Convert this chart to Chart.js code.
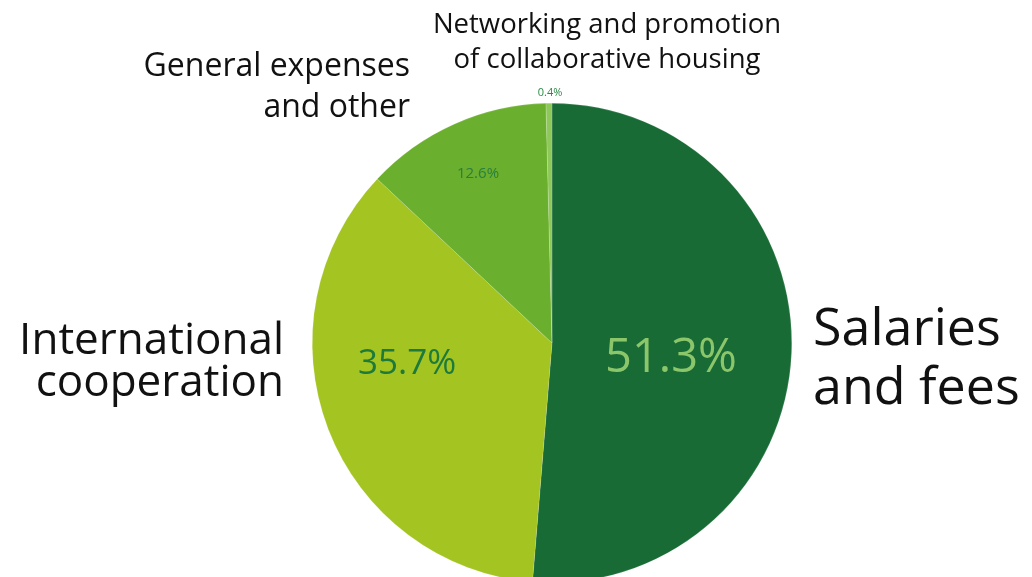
<!DOCTYPE html>
<html>
<head>
<meta charset="utf-8">
<script src="https://cdn.jsdelivr.net/npm/chart.js@4.4.1/dist/chart.umd.min.js"></script>
<style>
  html, body { margin: 0; padding: 0; background: #fff; overflow: hidden; }
  #wrap { width: 1032px; height: 577px; overflow: hidden; }
</style>
</head>
<body>
<div id="wrap"><canvas id="budget" width="1032" height="600"></canvas></div>
<script>
// budget split, clockwise from 12 o'clock
var categories = ["Salaries and fees", "International cooperation", "General expenses and other", "Networking and promotion of collaborative housing"];
var shares = [51.3, 35.7, 12.6, 0.4];
var sliceColors = ["#186b35", "#a3c421", "#6aaf2e", "#8fc85a"];
var pctLabels = ["51.3%", "35.7%", "12.6%", "0.4%"];

var fontFam = "'Open Sans', 'Noto Sans', sans-serif";

// category names and percentages drawn after the pie
var labelPlugin = {
  id: "labels",
  afterDraw: function(chart) {
    var c = chart.ctx;
    var cx = (chart.chartArea.left + chart.chartArea.right) / 2;
    var cy = (chart.chartArea.top + chart.chartArea.bottom) / 2;
    c.save();
    c.textBaseline = "alphabetic";

    // percentages
    c.textAlign = "center";
    c.fillStyle = "#8cc66a";
    c.font = "47px " + fontFam;
    c.fillText(pctLabels[0], cx + 119, cy + 29);
    c.fillStyle = "#1d7a3a";
    c.font = "35px " + fontFam;
    c.fillText(pctLabels[1], cx - 145, cy + 31);
    c.font = "15px " + fontFam;
    c.fillStyle = "#2a7e3e";
    c.fillText(pctLabels[2], cx - 74, cy - 165);
    c.font = "11px " + fontFam;
    c.fillStyle = "#2a8a45";
    c.fillText(pctLabels[3], cx - 2, cy - 247);

    // category names
    c.fillStyle = "#111";
    c.textAlign = "left";
    c.font = "52px " + fontFam;
    c.fillText("Salaries", 813, 345);
    c.fillText("and fees", 813, 404);

    c.textAlign = "right";
    c.font = "44px " + fontFam;
    c.fillText("International", 284, 354);
    c.fillText("cooperation", 284, 396);

    c.font = "32px " + fontFam;
    c.fillText("General expenses", 410, 76);
    c.fillText("and other", 410, 117);

    c.textAlign = "center";
    c.font = "27.5px " + fontFam;
    c.fillText("Networking and promotion", 607, 33);
    c.fillText("of collaborative housing", 607, 68);
    c.restore();
  }
};

var ctx = document.getElementById("budget");
var budgetChart = new Chart(ctx, {
  type: 'pie',
  data: {
    labels: categories,
    datasets: [{
      data: shares,
      backgroundColor: sliceColors,
      borderColor: "rgba(255,255,255,0.3)",
      borderWidth: 0.5
    }]
  },
  options: {
    responsive: false,
    animation: false,
    layout: { padding: { left: 312, right: 240, top: 103, bottom: 17 } },
    plugins: {
      legend: { display: false },
      tooltip: { enabled: false }
    }
  },
  plugins: [labelPlugin]
});
</script>
</body>
</html>
